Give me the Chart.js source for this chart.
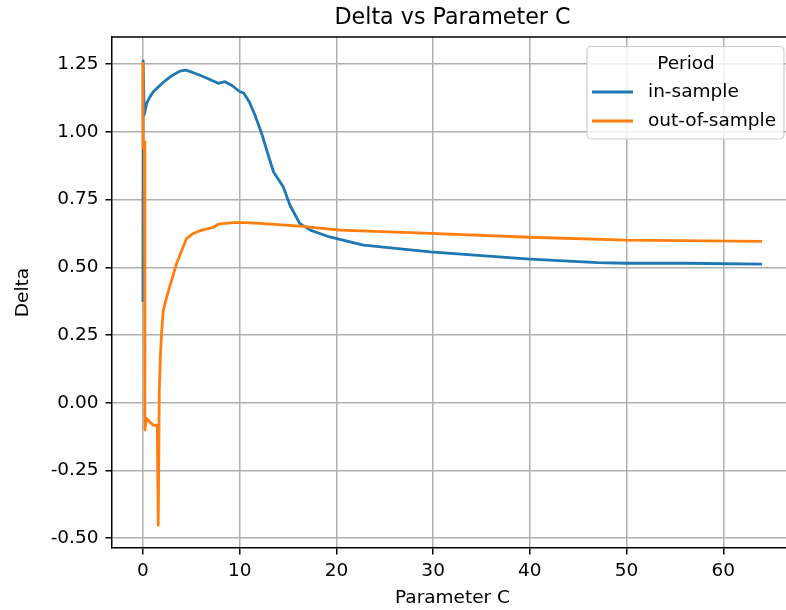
<!DOCTYPE html>
<html><head><meta charset="utf-8">
<script src="https://cdn.jsdelivr.net/npm/chart.js@4.4.1/dist/chart.umd.min.js"></script>
<style>html,body{margin:0;padding:0;overflow:hidden;background:#fff;width:786px;height:610px}</style>
</head><body>
<canvas id="c" width="786" height="610" style="display:block;width:786px;height:610px"></canvas>
<script>
const titleText = 'Delta vs Parameter C';
const xAxisLabel = 'Parameter C';
const yAxisLabel = 'Delta';
const legendTitle = 'Period';
const seriesNames = ['in-sample', 'out-of-sample'];

const inSampleC = [0, 0.02, 0.13, 0.38, 0.72, 1.07, 1.76, 2.45, 3.1, 3.83, 4.4, 4.69, 5.9, 6.8, 7.79, 8.48, 9.17, 10.03, 10.4, 11.0, 11.58, 12.27, 12.9, 13.5, 14.5, 15.2, 16.2, 17.3, 19.3, 22.8, 29.7, 35, 40, 47, 50, 56, 64];
const inSampleDelta = [0.372, 1.262, 1.062, 1.105, 1.129, 1.148, 1.172, 1.193, 1.21, 1.224, 1.228, 1.225, 1.209, 1.195, 1.179, 1.185, 1.172, 1.148, 1.144, 1.11, 1.062, 0.994, 0.92, 0.852, 0.797, 0.729, 0.662, 0.637, 0.612, 0.582, 0.557, 0.543, 0.530, 0.517, 0.515, 0.515, 0.512];

const outSampleC = [0, 0.02, 0.15, 0.2, 0.38, 0.7, 1.07, 1.48, 1.58, 1.69, 1.8, 1.93, 2.1, 2.45, 3.48, 4.5, 5.2, 5.9, 7.27, 7.79, 9.3, 10.5, 12.1, 16.2, 20.4, 29.7, 40, 50, 64];
const outSampleDelta = [1.258, 0.94, 0.963, -0.10, -0.058, -0.07, -0.083, -0.083, -0.452, 0.047, 0.17, 0.26, 0.34, 0.39, 0.514, 0.606, 0.625, 0.635, 0.647, 0.659, 0.665, 0.665, 0.662, 0.652, 0.637, 0.625, 0.611, 0.600, 0.596];

const xTicks = [0, 10, 20, 30, 40, 50, 60];
const yTicks = [-0.5, -0.25, 0, 0.25, 0.5, 0.75, 1.0, 1.25];

const BLUE = '#1f77b4', ORANGE = '#ff7f0e';
const FONT = 'DejaVu Sans';
const tickFont = {family: FONT, size: 18.5, lineHeight: 1.2};

function pts(xs, ys) { return xs.map((x, i) => ({x: x, y: ys[i]})); }

const frame = {
  id: 'frame',
  afterDatasetsDraw(chart) {
    const a = chart.chartArea, ctx = chart.ctx;
    ctx.save();
    ctx.strokeStyle = '#000';
    ctx.lineWidth = 1.5;
    ctx.beginPath();
    ctx.moveTo(a.left, a.top);
    ctx.lineTo(a.right + 2, a.top);
    ctx.stroke();
    ctx.restore();
  }
};

// the axes box continues a few pixels past the right edge of the picture;
// centre the title and x label over the full box, as in the reference
const centreOnFullBox = {
  id: 'centreOnFullBox',
  afterLayout(chart) {
    const extra = 7;
    if (chart.titleBlock) chart.titleBlock.right += extra;
    chart.scales.x.right += extra;
  }
};

const boxLegend = {
  id: 'boxLegend',
  afterDraw(chart) {
    const ctx = chart.ctx;
    const bx = 587, by = 46.5, bw = 197, bh = 92.5, r = 4;
    ctx.save();
    ctx.beginPath();
    ctx.moveTo(bx + r, by);
    ctx.lineTo(bx + bw - r, by); ctx.arcTo(bx + bw, by, bx + bw, by + r, r);
    ctx.lineTo(bx + bw, by + bh - r); ctx.arcTo(bx + bw, by + bh, bx + bw - r, by + bh, r);
    ctx.lineTo(bx + r, by + bh); ctx.arcTo(bx, by + bh, bx, by + bh - r, r);
    ctx.lineTo(bx, by + r); ctx.arcTo(bx, by, bx + r, by, r);
    ctx.closePath();
    ctx.fillStyle = 'rgba(255,255,255,0.8)';
    ctx.fill();
    ctx.strokeStyle = '#cccccc';
    ctx.lineWidth = 1.2;
    ctx.stroke();
    ctx.fillStyle = '#000';
    ctx.font = '18.5px "' + FONT + '"';
    ctx.textBaseline = 'middle';
    ctx.textAlign = 'center';
    ctx.fillText(legendTitle, 686, 64);
    ctx.textAlign = 'left';
    const rows = [92, 121];
    chart.data.datasets.forEach((ds, i) => {
      ctx.strokeStyle = ds.borderColor;
      ctx.lineWidth = 2.8;
      ctx.beginPath();
      ctx.moveTo(592, rows[i]); ctx.lineTo(633, rows[i]);
      ctx.stroke();
      ctx.fillText(ds.label, 648, rows[i]);
    });
    ctx.restore();
  }
};

new Chart(document.getElementById('c'), {
  type: 'line',
  data: {
    datasets: [
      {label: seriesNames[0], data: pts(inSampleC, inSampleDelta), borderColor: BLUE, backgroundColor: BLUE, borderWidth: 2.8, pointRadius: 0, tension: 0, borderJoinStyle: 'round', order: 2},
      {label: seriesNames[1], data: pts(outSampleC, outSampleDelta), borderColor: ORANGE, backgroundColor: ORANGE, borderWidth: 2.8, pointRadius: 0, tension: 0, borderJoinStyle: 'round', order: 1}
    ]
  },
  options: {
    responsive: false,
    animation: false,
    devicePixelRatio: 1,
    layout: {padding: {left: 0, right: 0, top: 0, bottom: 0}},
    plugins: {
      legend: {display: false},
      tooltip: {enabled: false},
      title: {
        display: true, text: titleText, fullSize: false, color: '#000',
        font: {family: FONT, size: 22.2, weight: 'normal', lineHeight: 1.2},
        padding: {top: 4.5, bottom: 5.86}
      }
    },
    scales: {
      x: {
        type: 'linear', min: -3.2, max: 66.48,
        afterBuildTicks: s => { s.ticks = xTicks.map(v => ({value: v})); },
        afterFit: s => { s.height = 62; },
        ticks: {font: tickFont, color: '#000', padding: 5.6, maxRotation: 0, autoSkip: false, callback: v => String(v)},
        grid: {color: '#b0b0b0', lineWidth: 1.5, tickColor: '#000', tickWidth: 1.5, tickLength: 6.5, drawTicks: true},
        border: {color: '#000', width: 1.5},
        title: {display: true, text: xAxisLabel, color: '#000', font: tickFont, padding: {top: 0, bottom: 1.2}}
      },
      y: {
        type: 'linear', min: -0.536, max: 1.35,
        afterBuildTicks: s => { s.ticks = yTicks.map(v => ({value: v})); },
        afterFit: s => { s.width = 112; },
        ticks: {font: tickFont, color: '#000', padding: 7, autoSkip: false, callback: v => Number(v).toFixed(2)},
        grid: {color: '#b0b0b0', lineWidth: 1.5, tickColor: '#000', tickWidth: 1.5, tickLength: 6.5, drawTicks: true},
        border: {color: '#000', width: 1.5},
        title: {display: true, text: yAxisLabel, color: '#000', font: tickFont, padding: {top: 12, bottom: 0}}
      }
    }
  },
  plugins: [centreOnFullBox, frame, boxLegend]
});
</script>
</body></html>
